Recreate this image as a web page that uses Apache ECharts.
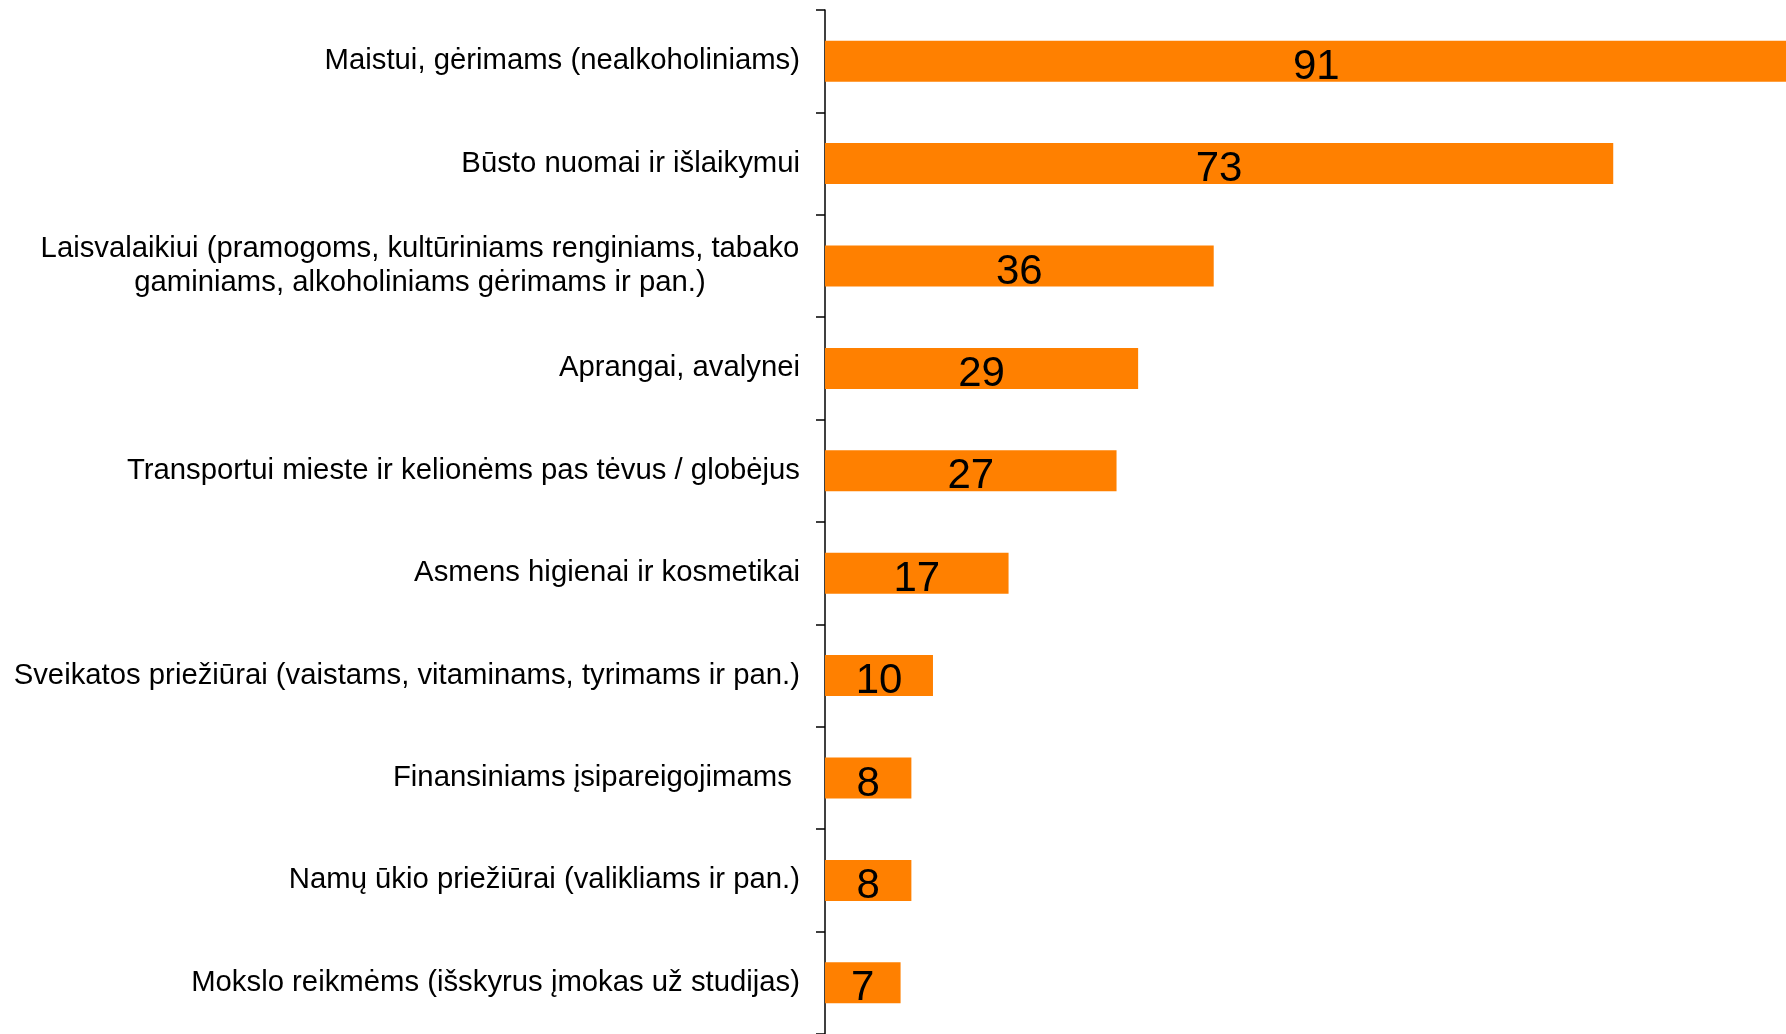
<!DOCTYPE html>
<html>
<head>
<meta charset="utf-8">
<style>
  html, body { margin: 0; padding: 0; background: #fff; }
  #chart { width: 1786px; height: 1034px; }
</style>
<script src="https://cdn.jsdelivr.net/npm/echarts@6/dist/echarts.min.js"></script>
</head>
<body>
<div id="chart"></div>
<script>
// categories, top to bottom
const categories = [
  "Maistui, gėrimams (nealkoholiniams)",
  "Būsto nuomai ir išlaikymui",
  "Laisvalaikiui (pramogoms, kultūriniams renginiams, tabako\ngaminiams, alkoholiniams gėrimams ir pan.)",
  "Aprangai, avalynei",
  "Transportui mieste ir kelionėms pas tėvus / globėjus",
  "Asmens higienai ir kosmetikai",
  "Sveikatos priežiūrai (vaistams, vitaminams, tyrimams ir pan.)",
  "Finansiniams įsipareigojimams ",
  "Namų ūkio priežiūrai (valikliams ir pan.)",
  "Mokslo reikmėms (išskyrus įmokas už studijas)"
];
const values = [91, 73, 36, 29, 27, 17, 10, 8, 8, 7];

const FONT = "'Liberation Sans', Arial, sans-serif";

let myChart = echarts.init(document.getElementById("chart"));

let option = {
  backgroundColor: "#fff",
  animation: false,
  grid: {
    left: 825,
    top: 10,
    right: 0,
    height: 1029,
    containLabel: false
  },
  xAxis: {
    type: "value",
    min: 0,
    max: 89, // top bar runs past the right edge of the page
    show: false
  },
  yAxis: {
    type: "category",
    inverse: true,
    data: categories,
    axisLine: { lineStyle: { color: "#000", width: 1.5 } },
    axisTick: { show: true, inside: false, length: 9, lineStyle: { color: "#000", width: 1.5 } },
    axisLabel: {
      margin: 25,
      fontSize: 29.3,
      lineHeight: 34,
      color: "#000",
      fontFamily: FONT,
      formatter: (v) => {
        if (v.indexOf("\n") >= 0) {
          // wrapped label: lines centred on each other
          return v.split("\n").map((s) => "{c|" + s + "}").join("\n");
        }
        return v;
      },
      rich: {
        c: {
          width: 760,
          align: "center",
          fontSize: 29.3,
          lineHeight: 34,
          color: "#000",
          fontFamily: FONT
        }
      }
    }
  },
  series: [
    {
      type: "bar",
      data: values,
      barCategoryGap: "60%",
      clip: false,
      itemStyle: { color: "#FF8000" },
      label: {
        show: true,
        position: "inside",
        color: "#000",
        fontSize: 42,
        fontFamily: FONT,
        offset: [0, 6]
      }
    }
  ]
};

myChart.setOption(option);
</script>
</body>
</html>
